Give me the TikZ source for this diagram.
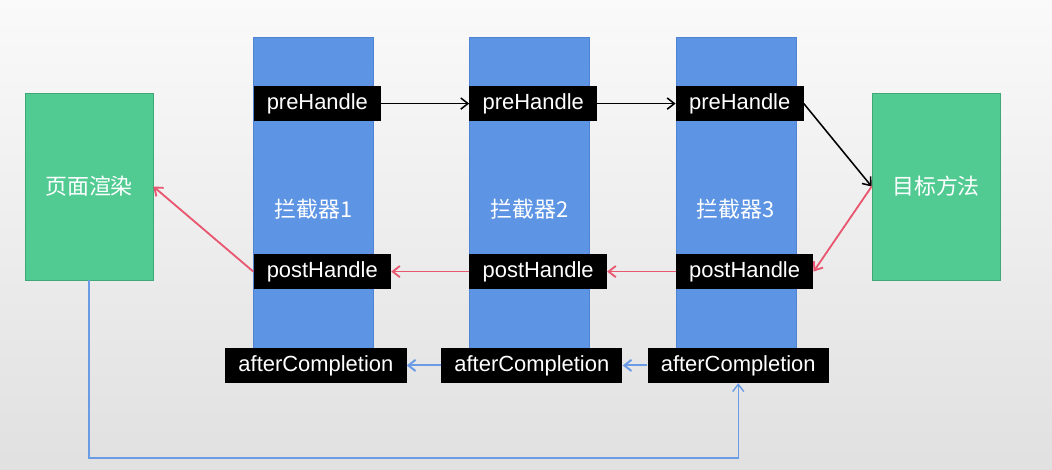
\documentclass[tikz,border=0pt]{standalone}
\usepackage{fontspec}
\setmainfont{Liberation Sans}
\newfontfamily\cjk{Noto Sans CJK SC}
\usepackage{xcolor}
\usepackage{tikz}
\usetikzlibrary{arrows.meta,positioning,calc}
\definecolor{chaingreen}{HTML}{52CB93}
\definecolor{chaingreenline}{HTML}{3FA877}
\definecolor{chainblue}{HTML}{5D94E4}
\definecolor{chainblueline}{HTML}{4F84D2}
\definecolor{callred}{HTML}{E8566F}
\definecolor{doneblue}{HTML}{6A9CE6}
\tikzset{
  endbox/.style={draw=chaingreenline, fill=chaingreen, line width=0.5pt, text=white, font=\cjk\fontsize{15.6}{18}\selectfont, minimum width=3.2cm, minimum height=4.675cm},
  column/.style={draw=chainblueline, fill=chainblue, line width=0.3pt, text=white, font=\cjk\fontsize{15.6}{18}\selectfont, minimum width=3cm, minimum height=8.625cm},
  tag/.style={fill=black, text=white, font=\fontsize{15.6}{18}\selectfont, inner xsep=0.33cm, inner ysep=0pt, minimum height=0.875cm},
  preedge/.style={-{Straight Barb[length=1.8mm,width=2.8mm]}, line width=1.1pt, draw=black},
  postedge/.style={-{Straight Barb[length=1.8mm,width=2.8mm]}, line width=1.3pt, draw=callred},
  afteredge/.style={-{Straight Barb[length=1.8mm,width=2.8mm]}, line width=1.4pt, draw=doneblue},
  loopedge/.style={-{Straight Barb[length=1.8mm,width=2.8mm]}, line width=1pt, draw=doneblue}
}
\begin{document}
\begin{tikzpicture}
  \shade[top color=white!98!black, bottom color=white!88!black] (0,0) rectangle (26.3,-11.75);
  \useasboundingbox (0,0) rectangle (26.3,-11.75);
  \node[endbox] (render) at (2.225,-4.6625) {页面渲染};
  \node[endbox] (target) at (23.4,-4.6625) {目标方法};
  \node[column] (col1) at (7.8375,-5.2375) {拦截器1};
  \node[column, right=2.3875cm of col1] (col2) {拦截器2};
  \node[column, right=2.15cm of col2] (col3) {拦截器3};
  \node[tag, below right=1.225cm and 0cm of col1.north west] (pre1) {preHandle};
  \node[tag, below right=1.225cm and 0cm of col2.north west] (pre2) {preHandle};
  \node[tag, below right=1.225cm and 0cm of col3.north west] (pre3) {preHandle};
  \node[tag, below right=5.425cm and 0cm of col1.north west] (post1) {postHandle};
  \node[tag, below right=5.425cm and 0cm of col2.north west] (post2) {postHandle};
  \node[tag, below right=5.425cm and 0cm of col3.north west] (post3) {postHandle};
  \node[tag, above=-0.025cm of col1.south, xshift=0.06cm] (after1) {afterCompletion};
  \node[tag, above=-0.025cm of col2.south, xshift=0.06cm] (after2) {afterCompletion};
  \node[tag, above=-0.025cm of col3.south, xshift=0.06cm] (after3) {afterCompletion};
  \coordinate (base) at (0,-11.45);
  \draw[preedge] (pre1) -- (pre2);
  \draw[preedge] (pre2) -- (pre3);
  \draw[preedge] (pre3.east) -- (target.west);
  \draw[postedge] (target.west) -- (post3.east);
  \draw[postedge] (post3) -- (post2);
  \draw[postedge] (post2) -- (post1);
  \draw[postedge] (post1.west) -- (render.east);
  \draw[afteredge] (after3) -- (after2);
  \draw[afteredge] (after2) -- (after1);
  \draw[loopedge] (render.south) -- (render.south |- base) -| (after3.south);
\end{tikzpicture}
\end{document}
